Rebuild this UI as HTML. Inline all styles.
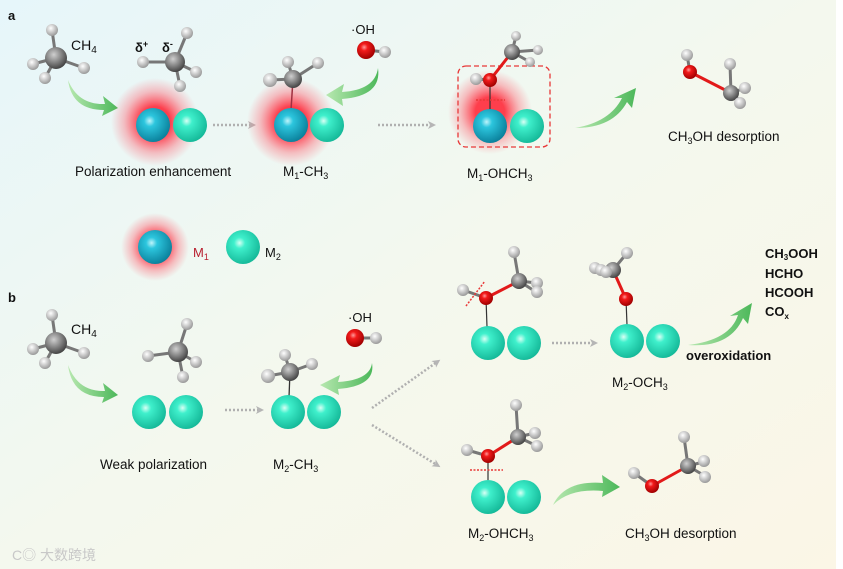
<!DOCTYPE html>
<html><head><meta charset="utf-8"><style>
html,body{margin:0;padding:0;width:843px;height:569px;overflow:hidden}
svg{display:block}
text{font-family:"Liberation Sans",Arial,sans-serif;fill:#111}
</style></head><body>
<svg width="843" height="569" viewBox="0 0 843 569" xmlns="http://www.w3.org/2000/svg">
<defs>
<linearGradient id="bg" x1="0" y1="0" x2="1" y2="1">
<stop offset="0" stop-color="#e6f6fa"/><stop offset="0.5" stop-color="#f4f8ee"/><stop offset="1" stop-color="#fbf6e6"/></linearGradient>
<radialGradient id="m1" cx="0.4" cy="0.38" r="0.65"><stop offset="0" stop-color="#bff4fb"/><stop offset="0.25" stop-color="#2cc6de"/><stop offset="1" stop-color="#0a7f9a"/></radialGradient>
<radialGradient id="m2" cx="0.4" cy="0.38" r="0.65"><stop offset="0" stop-color="#d8fff4"/><stop offset="0.25" stop-color="#3ff0cc"/><stop offset="1" stop-color="#14b898"/></radialGradient>
<radialGradient id="c" cx="0.4" cy="0.35" r="0.65"><stop offset="0" stop-color="#cfcfcf"/><stop offset="1" stop-color="#454545"/></radialGradient>
<radialGradient id="h" cx="0.4" cy="0.35" r="0.65"><stop offset="0" stop-color="#ffffff"/><stop offset="1" stop-color="#9a9a9a"/></radialGradient>
<radialGradient id="o" cx="0.4" cy="0.35" r="0.65"><stop offset="0" stop-color="#ff9a9a"/><stop offset="0.3" stop-color="#f21a1a"/><stop offset="1" stop-color="#a00000"/></radialGradient>
<radialGradient id="glow"><stop offset="0.35" stop-color="#ff2a3a" stop-opacity="0.9"/><stop offset="0.7" stop-color="#ff5060" stop-opacity="0.35"/><stop offset="1" stop-color="#ff6070" stop-opacity="0"/></radialGradient>
<linearGradient id="ga" x1="0" y1="0" x2="1" y2="0"><stop offset="0" stop-color="#b8e8b0"/><stop offset="1" stop-color="#4cb85a"/></linearGradient>
<marker id="ah" markerWidth="8" markerHeight="8" refX="4" refY="4" orient="auto" markerUnits="userSpaceOnUse"><path d="M0,0 L8,4 L0,8 L2,4z" fill="#b5b5b5"/></marker>
</defs>
<rect width="843" height="569" fill="url(#bg)"/>
<rect x="836" y="0" width="7" height="569" fill="#fff"/>

<g stroke="#b0b0b0" stroke-width="2.5" stroke-dasharray="2,2" fill="none">
<line x1="213" y1="125" x2="252" y2="125" marker-end="url(#ah)"/>
<line x1="378" y1="125" x2="432" y2="125" marker-end="url(#ah)"/>
<line x1="225" y1="410" x2="260" y2="410" marker-end="url(#ah)"/>
<line x1="372" y1="408" x2="437" y2="362" marker-end="url(#ah)"/>
<line x1="372" y1="425" x2="437" y2="465" marker-end="url(#ah)"/>
<line x1="552" y1="343" x2="594" y2="343" marker-end="url(#ah)"/>
</g>

<!-- green arrows -->
<g fill="url(#ga)">
<path d="M68,80 Q78,105 105,104 L103,96 L118,108 L102,116 L104,110 Q72,110 68,80z"/>
<path d="M378,68 Q375,90 342,92 L344,84 L326,95 L343,106 L342,99 Q382,96 378,68z"/>
<path d="M575,128 Q610,122 622,98 L614,98 L636,88 L632,108 L627,102 Q613,128 575,128z"/>
<path d="M68,365 Q78,392 105,391 L103,383 L118,395 L102,403 L104,397 Q72,397 68,365z"/>
<path d="M372,363 Q370,380 338,382 L340,375 L320,385 L339,395 L338,389 Q376,386 372,363z"/>
<path d="M688,345 Q730,340 738,315 L730,316 L752,303 L748,324 L743,318 Q730,348 688,345z"/>
<path d="M553,505 Q565,480 603,483 L602,475 L620,487 L602,497 L603,491 Q570,488 553,505z"/>
</g>

<!-- glows -->
<circle cx="155" cy="122" r="44" fill="url(#glow)"/>
<circle cx="291" cy="122" r="44" fill="url(#glow)"/>
<circle cx="490" cy="112" r="42" fill="url(#glow)"/>
<circle cx="155" cy="247" r="34" fill="url(#glow)"/>

<!-- a: CH4 -->
<g stroke="#777" stroke-width="3"><line x1="56" y1="58" x2="52" y2="30"/><line x1="56" y1="58" x2="33" y2="64"/><line x1="56" y1="58" x2="45" y2="78"/><line x1="56" y1="58" x2="84" y2="68"/></g>
<circle cx="52" cy="30" r="6" fill="url(#h)"/><circle cx="33" cy="64" r="6" fill="url(#h)"/><circle cx="56" cy="58" r="11" fill="url(#c)"/><circle cx="45" cy="78" r="6" fill="url(#h)"/><circle cx="84" cy="68" r="6" fill="url(#h)"/>
<text x="71" y="50" font-size="14">CH<tspan font-size="10" dy="3">4</tspan></text>
<text x="8" y="20" font-size="13" font-weight="bold">a</text>
<!-- delta methyl -->
<text x="135" y="52" font-size="13" font-weight="bold">δ<tspan font-size="9" dy="-5">+</tspan></text>
<text x="162" y="52" font-size="13" font-weight="bold">δ<tspan font-size="9" dy="-5">-</tspan></text>
<g stroke="#777" stroke-width="3"><line x1="175" y1="62" x2="187" y2="33"/><line x1="175" y1="62" x2="143" y2="62"/><line x1="175" y1="62" x2="196" y2="72"/><line x1="175" y1="62" x2="180" y2="86"/></g>
<circle cx="187" cy="33" r="6" fill="url(#h)"/><circle cx="143" cy="62" r="6" fill="url(#h)"/><circle cx="175" cy="62" r="10" fill="url(#c)"/><circle cx="196" cy="72" r="6" fill="url(#h)"/><circle cx="180" cy="86" r="6" fill="url(#h)"/>
<circle cx="190" cy="125" r="17" fill="url(#m2)"/><circle cx="153" cy="125" r="17" fill="url(#m1)"/>
<text x="75" y="176" font-size="13.5">Polarization enhancement</text>

<!-- M1-CH3 -->
<line x1="293" y1="79" x2="291" y2="110" stroke="#a03040" stroke-width="1.5"/>
<g stroke="#777" stroke-width="3"><line x1="293" y1="79" x2="270" y2="80"/><line x1="293" y1="79" x2="288" y2="62"/><line x1="293" y1="79" x2="318" y2="63"/></g>
<circle cx="288" cy="62" r="6" fill="url(#h)"/><circle cx="318" cy="63" r="6" fill="url(#h)"/><circle cx="293" cy="79" r="9" fill="url(#c)"/><circle cx="270" cy="80" r="7" fill="url(#h)"/>
<circle cx="327" cy="125" r="17" fill="url(#m2)"/><circle cx="291" cy="125" r="17" fill="url(#m1)"/>
<text x="283" y="176" font-size="13.5">M<tspan font-size="9" dy="3">1</tspan><tspan dy="-3">-CH</tspan><tspan font-size="9" dy="3">3</tspan></text>
<text x="351" y="34" font-size="13">·OH</text>
<line x1="366" y1="50" x2="385" y2="52" stroke="#777" stroke-width="3"/>
<circle cx="385" cy="52" r="6" fill="url(#h)"/><circle cx="366" cy="50" r="9" fill="url(#o)"/>

<!-- M1-OHCH3 -->
<rect x="458" y="66" width="92" height="81" rx="8" fill="none" stroke="#e83838" stroke-width="1.3" stroke-dasharray="5,3"/>
<line x1="490" y1="80" x2="490" y2="110" stroke="#333" stroke-width="1.2"/>
<line x1="476" y1="100" x2="505" y2="100" stroke="#e83838" stroke-width="1.5" stroke-dasharray="2,1.5"/>
<g stroke="#777" stroke-width="3"><line x1="512" y1="52" x2="516" y2="36"/><line x1="512" y1="52" x2="538" y2="50"/><line x1="512" y1="52" x2="530" y2="62"/><line x1="490" y1="80" x2="476" y2="79"/></g>
<line x1="490" y1="80" x2="512" y2="52" stroke="#e21a1a" stroke-width="3"/>
<circle cx="516" cy="36" r="5" fill="url(#h)"/><circle cx="512" cy="52" r="8" fill="url(#c)"/><circle cx="538" cy="50" r="5" fill="url(#h)"/><circle cx="530" cy="62" r="5" fill="url(#h)"/><circle cx="476" cy="79" r="6" fill="url(#h)"/><circle cx="490" cy="80" r="7" fill="url(#o)"/>
<circle cx="527" cy="126" r="17" fill="url(#m2)"/><circle cx="490" cy="126" r="17" fill="url(#m1)"/>
<text x="467" y="178" font-size="13.5">M<tspan font-size="9" dy="3">1</tspan><tspan dy="-3">-OHCH</tspan><tspan font-size="9" dy="3">3</tspan></text>

<!-- free methanol a -->
<g stroke="#777" stroke-width="3"><line x1="731" y1="93" x2="730" y2="64"/><line x1="731" y1="93" x2="745" y2="88"/><line x1="731" y1="93" x2="742" y2="102"/><line x1="690" y1="72" x2="687" y2="55"/></g>
<line x1="690" y1="72" x2="731" y2="93" stroke="#e21a1a" stroke-width="3"/>
<circle cx="687" cy="55" r="6" fill="url(#h)"/><circle cx="730" cy="64" r="6" fill="url(#h)"/><circle cx="731" cy="93" r="8" fill="url(#c)"/><circle cx="745" cy="88" r="6" fill="url(#h)"/><circle cx="740" cy="103" r="6" fill="url(#h)"/><circle cx="690" cy="72" r="7" fill="url(#o)"/>
<text x="668" y="141" font-size="13.5">CH<tspan font-size="9" dy="3">3</tspan><tspan dy="-3">OH desorption</tspan></text>

<!-- legend -->
<circle cx="155" cy="247" r="17" fill="url(#m1)"/>
<text x="193" y="257" font-size="13" fill="#c02030" style="fill:#b82030">M<tspan font-size="9" dy="3">1</tspan></text>
<circle cx="243" cy="247" r="17" fill="url(#m2)"/>
<text x="265" y="257" font-size="13">M<tspan font-size="9" dy="3">2</tspan></text>

<!-- b -->
<text x="8" y="302" font-size="13" font-weight="bold">b</text>
<g stroke="#777" stroke-width="3"><line x1="56" y1="343" x2="52" y2="315"/><line x1="56" y1="343" x2="33" y2="349"/><line x1="56" y1="343" x2="45" y2="363"/><line x1="56" y1="343" x2="84" y2="353"/></g>
<circle cx="52" cy="315" r="6" fill="url(#h)"/><circle cx="33" cy="349" r="6" fill="url(#h)"/><circle cx="56" cy="343" r="11" fill="url(#c)"/><circle cx="45" cy="363" r="6" fill="url(#h)"/><circle cx="84" cy="353" r="6" fill="url(#h)"/>
<text x="71" y="334" font-size="14">CH<tspan font-size="10" dy="3">4</tspan></text>
<g stroke="#777" stroke-width="3"><line x1="178" y1="352" x2="187" y2="324"/><line x1="178" y1="352" x2="148" y2="356"/><line x1="178" y1="352" x2="196" y2="362"/><line x1="178" y1="352" x2="183" y2="377"/></g>
<circle cx="187" cy="324" r="6" fill="url(#h)"/><circle cx="148" cy="356" r="6" fill="url(#h)"/><circle cx="178" cy="352" r="10" fill="url(#c)"/><circle cx="196" cy="362" r="6" fill="url(#h)"/><circle cx="183" cy="377" r="6" fill="url(#h)"/>
<circle cx="186" cy="412" r="17" fill="url(#m2)"/><circle cx="149" cy="412" r="17" fill="url(#m2)"/>
<text x="100" y="469" font-size="13.5">Weak polarization</text>

<line x1="290" y1="372" x2="289" y2="397" stroke="#333" stroke-width="1.3"/>
<g stroke="#777" stroke-width="3"><line x1="290" y1="372" x2="268" y2="376"/><line x1="290" y1="372" x2="285" y2="355"/><line x1="290" y1="372" x2="312" y2="364"/></g>
<circle cx="285" cy="355" r="6" fill="url(#h)"/><circle cx="312" cy="364" r="6" fill="url(#h)"/><circle cx="290" cy="372" r="9" fill="url(#c)"/><circle cx="268" cy="376" r="7" fill="url(#h)"/>
<circle cx="324" cy="412" r="17" fill="url(#m2)"/><circle cx="288" cy="412" r="17" fill="url(#m2)"/>
<text x="273" y="469" font-size="13.5">M<tspan font-size="9" dy="3">2</tspan><tspan dy="-3">-CH</tspan><tspan font-size="9" dy="3">3</tspan></text>
<text x="348" y="322" font-size="13">·OH</text>
<line x1="355" y1="338" x2="376" y2="338" stroke="#777" stroke-width="3"/>
<circle cx="376" cy="338" r="6" fill="url(#h)"/><circle cx="355" cy="338" r="9" fill="url(#o)"/>

<!-- top branch -->
<line x1="486" y1="298" x2="487" y2="327" stroke="#333" stroke-width="1.2"/>
<g stroke="#777" stroke-width="3"><line x1="519" y1="281" x2="514" y2="252"/><line x1="519" y1="281" x2="537" y2="283"/><line x1="519" y1="281" x2="536" y2="292"/><line x1="486" y1="298" x2="463" y2="290"/></g>
<line x1="486" y1="298" x2="519" y2="281" stroke="#e21a1a" stroke-width="3"/>
<circle cx="514" cy="252" r="6" fill="url(#h)"/><circle cx="519" cy="281" r="8" fill="url(#c)"/><circle cx="537" cy="283" r="6" fill="url(#h)"/><circle cx="537" cy="292" r="6" fill="url(#h)"/><circle cx="463" cy="290" r="6" fill="url(#h)"/><circle cx="486" cy="298" r="7" fill="url(#o)"/>
<line x1="466" y1="306" x2="485" y2="281" stroke="#e83838" stroke-width="1.5" stroke-dasharray="2,1.5"/>
<circle cx="524" cy="343" r="17" fill="url(#m2)"/><circle cx="488" cy="343" r="17" fill="url(#m2)"/>

<line x1="626" y1="299" x2="627" y2="325" stroke="#333" stroke-width="1.2"/>
<g stroke="#777" stroke-width="3"><line x1="613" y1="270" x2="627" y2="253"/><line x1="613" y1="270" x2="598" y2="268"/></g>
<line x1="626" y1="299" x2="613" y2="270" stroke="#e21a1a" stroke-width="3"/>
<circle cx="627" cy="253" r="6" fill="url(#h)"/><circle cx="595" cy="268" r="6" fill="url(#h)"/><circle cx="601" cy="270" r="6" fill="url(#h)"/><circle cx="613" cy="270" r="8" fill="url(#c)"/><circle cx="606" cy="272" r="6" fill="url(#h)"/><circle cx="626" cy="299" r="7" fill="url(#o)"/>
<circle cx="663" cy="341" r="17" fill="url(#m2)"/><circle cx="627" cy="341" r="17" fill="url(#m2)"/>
<text x="612" y="387" font-size="13.5">M<tspan font-size="9" dy="3">2</tspan><tspan dy="-3">-OCH</tspan><tspan font-size="9" dy="3">3</tspan></text>
<text x="686" y="360" font-size="13" font-weight="bold">overoxidation</text>
<g font-size="13" font-weight="bold"><text x="765" y="258">CH<tspan font-size="8" dy="2">3</tspan><tspan dy="-2">OOH</tspan></text><text x="765" y="278">HCHO</text><text x="765" y="297">HCOOH</text><text x="765" y="316">CO<tspan font-size="8" dy="3">x</tspan></text></g>

<!-- bottom branch -->
<line x1="488" y1="456" x2="488" y2="480" stroke="#333" stroke-width="1.2"/>
<g stroke="#777" stroke-width="3"><line x1="518" y1="437" x2="516" y2="405"/><line x1="518" y1="437" x2="535" y2="433"/><line x1="518" y1="437" x2="537" y2="446"/><line x1="488" y1="456" x2="467" y2="450"/></g>
<line x1="488" y1="456" x2="518" y2="437" stroke="#e21a1a" stroke-width="3"/>
<circle cx="516" cy="405" r="6" fill="url(#h)"/><circle cx="518" cy="437" r="8" fill="url(#c)"/><circle cx="535" cy="433" r="6" fill="url(#h)"/><circle cx="537" cy="446" r="6" fill="url(#h)"/><circle cx="467" cy="450" r="6" fill="url(#h)"/><circle cx="488" cy="456" r="7" fill="url(#o)"/>
<line x1="470" y1="470" x2="503" y2="470" stroke="#e83838" stroke-width="1.5" stroke-dasharray="2,1.5"/>
<circle cx="524" cy="497" r="17" fill="url(#m2)"/><circle cx="488" cy="497" r="17" fill="url(#m2)"/>
<text x="468" y="538" font-size="13.5">M<tspan font-size="9" dy="3">2</tspan><tspan dy="-3">-OHCH</tspan><tspan font-size="9" dy="3">3</tspan></text>

<g stroke="#777" stroke-width="3"><line x1="688" y1="466" x2="684" y2="437"/><line x1="688" y1="466" x2="703" y2="462"/><line x1="688" y1="466" x2="705" y2="476"/><line x1="652" y1="486" x2="634" y2="473"/></g>
<line x1="652" y1="486" x2="688" y2="466" stroke="#e21a1a" stroke-width="3"/>
<circle cx="684" cy="437" r="6" fill="url(#h)"/><circle cx="688" cy="466" r="8" fill="url(#c)"/><circle cx="704" cy="461" r="6" fill="url(#h)"/><circle cx="705" cy="477" r="6" fill="url(#h)"/><circle cx="634" cy="473" r="6" fill="url(#h)"/><circle cx="652" cy="486" r="7" fill="url(#o)"/>
<text x="625" y="538" font-size="13.5">CH<tspan font-size="9" dy="3">3</tspan><tspan dy="-3">OH desorption</tspan></text>

<text x="12" y="560" font-size="14" style="fill:#c8c8c8;font-family:'Liberation Sans','Noto Sans CJK SC',sans-serif">C◎ 大数跨境</text>
</svg>
</body></html>
